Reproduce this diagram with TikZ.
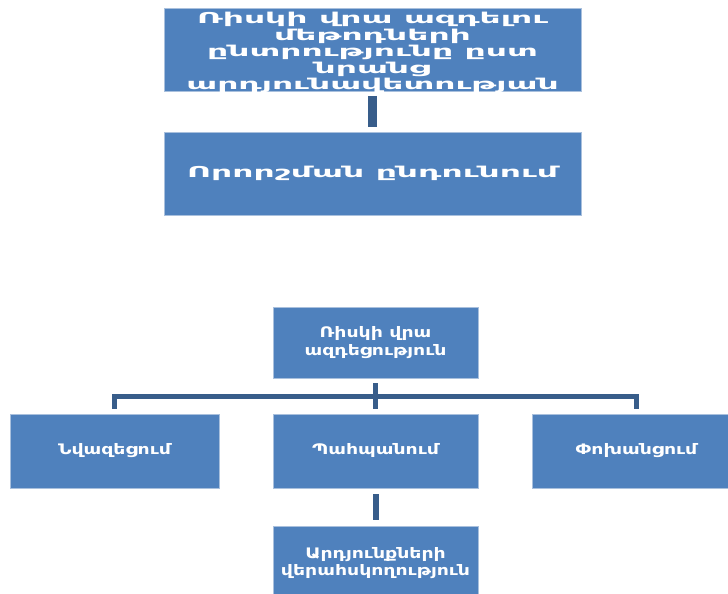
\documentclass[tikz,border=0pt]{standalone}
\usepackage{fontspec}
\setmainfont{DejaVu Sans}
\newfontfamily\armbig[FakeStretch=2.2]{DejaVu Sans Bold}
\newfontfamily\armsmall[FakeStretch=1.3]{DejaVu Sans Bold}
\definecolor{boxblue}{HTML}{4F81BD}
\definecolor{boxedge}{HTML}{A9C0DD}
\definecolor{linkblue}{HTML}{385D8A}
\begin{document}
\begin{tikzpicture}[x=1pt,y=1pt,
  bluebox/.style={draw=boxedge, line width=0.8pt, fill=boxblue, text=white, align=center, inner sep=0pt},
  bigbox/.style={bluebox, minimum width=417pt, minimum height=83pt, font=\armbig\fontsize{15}{16.5}\selectfont},
  smallbox/.style={bluebox, minimum width=205pt, minimum height=73pt, font=\armsmall\fontsize{14.5}{17.5}\selectfont},
  thicklink/.style={draw=linkblue, line width=9pt, shorten <=4.5pt, shorten >=4.5pt},
  treelink/.style={draw=linkblue, line width=5pt}]
\useasboundingbox (0,0) rectangle (728,594);
% upper chain
\node[bigbox] (sel) at (372.5,544.5) {\raisebox{-3pt}[\height][\depth]{\parbox{417pt}{\centering Ռիսկի վրա ազդելու\\մեթոդների\\ընտրությունը ըստ\\նրանց\\արդյունավետության}}};
\node[bigbox] (dec) at (372.5,420.5) {Որորշման ընդունում};
\draw[thicklink] (sel.south) -- (dec.north);
% lower tree
\node[smallbox, minimum height=71pt] (risk) at (375.5,251.5) {Ռիսկի վրա\\ազդեցություն};
\node[smallbox, minimum width=209pt, minimum height=74pt] (red) at (114.5,143) {Նվազեցում};
\node[smallbox, minimum height=74pt] (ret) at (375.5,143) {Պահպանում};
\node[smallbox, minimum width=209pt, minimum height=74pt] (tra) at (636.5,143) {Փոխանցում};
\node[smallbox, minimum height=74pt] (mon) at (375.5,31) {Արդյունքների\\վերահսկողություն};
\coordinate (bar) at (375.5,197);
\draw[treelink] ([yshift=-5pt]risk.south) -- ([yshift=5pt]ret.north);
\draw[treelink] ([yshift=5pt]red.north) |- (bar) -| ([yshift=5pt]tra.north);
\draw[treelink, line width=6pt] ([yshift=-6pt]ret.south) -- ([yshift=6pt]mon.north);
\end{tikzpicture}
\end{document}
